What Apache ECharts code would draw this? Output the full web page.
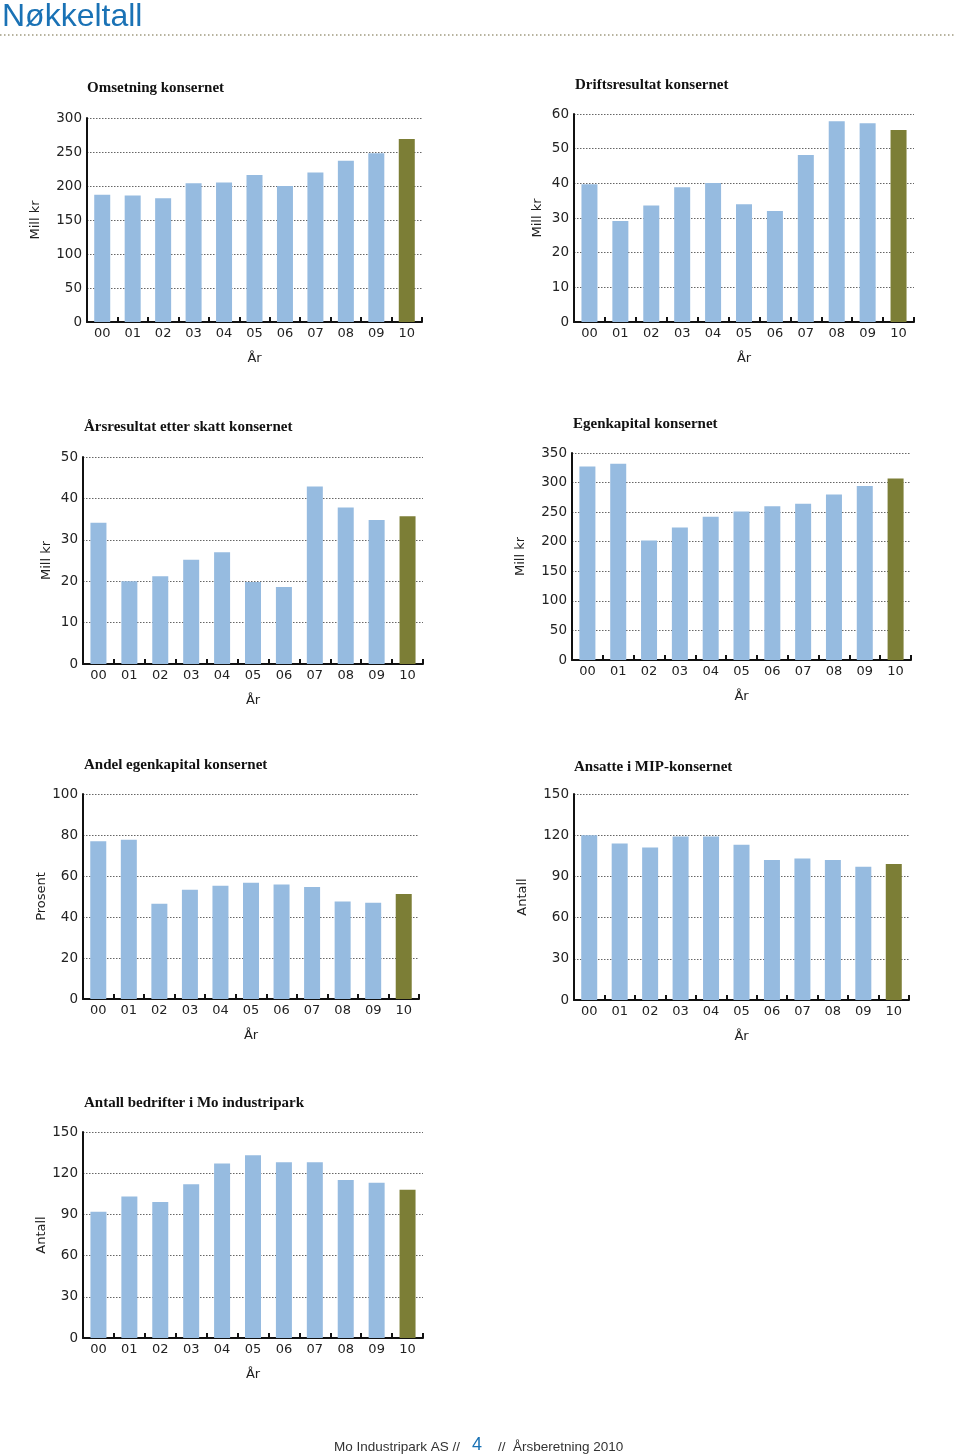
<!DOCTYPE html>
<html>
<head>
<meta charset="utf-8">
<script src="https://cdn.jsdelivr.net/npm/echarts@6/dist/echarts.min.js"></script>
<style>
html,body{margin:0;padding:0;background:#fff;}
#c{width:960px;height:1454px;}
</style>
</head>
<body>
<div id="c"></div>
<script>
var years = ['00','01','02','03','04','05','06','07','08','09','10'];

var titles = ['Omsetning konsernet','Driftsresultat konsernet','Årsresultat etter skatt konsernet','Egenkapital konsernet','Andel egenkapital konsernet','Ansatte i MIP-konsernet','Antall bedrifter i Mo industripark'];
var yNames = ['Mill kr','Mill kr','Mill kr','Mill kr','Prosent','Antall','Antall'];
var xName = 'År';

var omsetning = [187,186,182,204,205,216,200,220,237,248,269];
var driftsresultat = [39.7,29.1,33.6,38.9,40.1,34.0,32.0,48.2,57.9,57.3,55.4];
var aarsresultat = [34.1,20.0,21.2,25.2,27.0,19.8,18.6,42.9,37.8,34.8,35.7];
var egenkapital = [327,332,202,224,242,251,260,264,280,294,307];
var andelEgenkapital = [76.9,77.7,46.5,53.3,55.3,56.7,55.9,54.6,47.6,47.0,51.2];
var ansatte = [120,114,111,119,119,113,102,103,102,97,99];
var bedrifter = [92,103,99,112,127,133,128,128,115,113,108];

var yMax = [300,60,50,350,100,150,150];
var yInterval = [50,10,10,50,20,30,30];

var headline = 'Nøkkeltall';
var footerLeft = 'Mo Industripark AS //';
var footerPage = '4';
var footerRight = '//  Årsberetning 2010';

var seriesData = [omsetning,driftsresultat,aarsresultat,egenkapital,andelEgenkapital,ansatte,bedrifter];

// layout
var grids = [
  {left:87, top:118, width:335, height:204},
  {left:574, top:114, width:340, height:208},
  {left:83, top:457, width:340, height:207},
  {left:572, top:453, width:339, height:207},
  {left:83, top:794, width:336, height:205},
  {left:574, top:794, width:335, height:206},
  {left:83, top:1132, width:340, height:206}
];
var titlePos = [[87,81],[575,78],[84,420],[573,417],[84,758],[574,760],[84,1096]];
var yNameGap = [45,30,30,45,30,45,30];

var BLUE = '#96bbe0', OLIVE = '#7c7e36';
var FONT = 'DejaVu Sans';

var option = {
  backgroundColor:'#fff',
  animation:false,
  title: titles.map(function(t,i){
    return {text:t, left:titlePos[i][0], top:titlePos[i][1], padding:0,
      textStyle:{fontFamily:'Liberation Serif', fontWeight:'bold', fontSize:15, color:'#111'}};
  }),
  grid: grids.map(function(g){ return {left:g.left, top:g.top, width:g.width, height:g.height, containLabel:false}; }),
  xAxis: grids.map(function(g,i){
    return {type:'category', gridIndex:i, data:years, boundaryGap:true,
      name:xName, nameLocation:'middle', nameGap:30,
      nameTextStyle:{fontFamily:FONT, fontSize:13, color:'#222'},
      axisLine:{show:true, lineStyle:{color:'#111', width:2}},
      axisTick:{show:true, inside:true, length:5, alignWithLabel:false, lineStyle:{color:'#111', width:2}},
      axisLabel:{fontFamily:FONT, fontSize:13, color:'#222', margin:5, interval:0},
      splitLine:{show:false}};
  }),
  yAxis: grids.map(function(g,i){
    return {type:'value', gridIndex:i, min:0, max:yMax[i], interval:yInterval[i],
      name:yNames[i], nameLocation:'middle', nameGap:yNameGap[i], nameRotate:90,
      nameTextStyle:{fontFamily:FONT, fontSize:13, color:'#222'},
      axisLine:{show:true, lineStyle:{color:'#111', width:2}},
      axisTick:{show:false},
      axisLabel:{fontFamily:FONT, fontSize:13.5, color:'#222', margin:5},
      splitLine:{show:true, lineStyle:{color:'#666', type:[1.5,1.5], width:1}}};
  }),
  series: seriesData.map(function(d,i){
    return {type:'bar', xAxisIndex:i, yAxisIndex:i, data:d, barWidth:16,
      itemStyle:{color:function(p){ return p.dataIndex === d.length-1 ? OLIVE : BLUE; }}};
  }),
  graphic: [
    {type:'text', left:2, top:1, style:{text:headline, fontFamily:'Liberation Sans', fontSize:32, fill:'#1a72b5'}},
    {type:'line', shape:{x1:0,y1:35,x2:956,y2:35}, style:{stroke:'#a09a80', lineWidth:1.5, lineDash:[1.5,2.5]}},
    {type:'text', left:334, top:1440, style:{text:footerLeft, fontFamily:'Liberation Sans', fontSize:13.5, fill:'#333'}},
    {type:'text', left:472, top:1436, style:{text:footerPage, fontFamily:'Liberation Sans', fontSize:18, fill:'#1a72b5'}},
    {type:'text', left:498, top:1440, style:{text:footerRight, fontFamily:'Liberation Sans', fontSize:13.5, fill:'#333'}}
  ]
};

var chart = echarts.init(document.getElementById('c'), null, {renderer:'canvas'});
chart.setOption(option);
</script>
</body>
</html>
